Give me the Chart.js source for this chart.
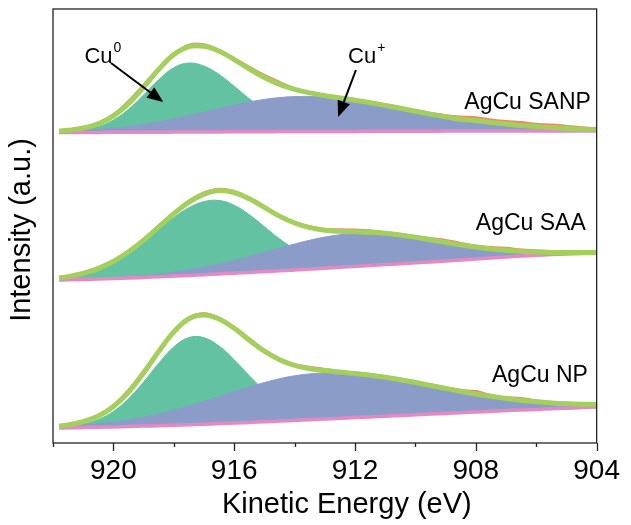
<!DOCTYPE html>
<html>
<head>
<meta charset="utf-8">
<title>Cu LMM Auger spectra</title>
<script src="https://cdn.jsdelivr.net/npm/chart.js@4.4.1/dist/chart.umd.min.js"></script>
<style>
  html, body { margin: 0; padding: 0; background: #fff; }
  #wrap { width: 631px; height: 525px; }
</style>
</head>
<body>
<div id="wrap"><canvas id="chart" width="631" height="525"></canvas></div>
<script>
// kinetic energy grid (eV), shared by every curve
const energy = [921.8, 921.5, 921, 920.5, 920, 919.5, 919, 918.5, 918, 917.5, 917, 916.5, 916, 915.5, 915, 914.5, 914, 913.5, 913, 912.5, 912, 911.5, 911, 910.5, 910, 909.5, 909, 908.5, 908, 907.5, 907, 906.5, 906, 905.5, 905, 904.5, 904];
const energyTicks = [920, 916, 912, 908, 904];

// AgCu SANP
const sanpBackground = [20.5, 20.5, 20.6, 20.6, 20.7, 20.7, 20.8, 20.8, 20.9, 21, 21, 21.1, 21.2, 21.2, 21.3, 21.4, 21.4, 21.5, 21.5, 21.6, 21.6, 21.7, 21.7, 21.8, 21.8, 21.8, 21.9, 21.9, 21.9, 22, 22, 22, 22, 22, 22, 22, 22];
const sanpCu0 = [20.9, 21.4, 23.0, 26.4, 33.1, 43.7, 58.0, 73.3, 85.3, 90.0, 86.9, 78.5, 66.8, 54.3, 43.2, 34.6, 28.7, 25.1, 23.2, 22.3, 21.9, 21.7, 21.7, 21.8, 21.8, 21.8, 21.9, 21.9, 21.9, 22, 22, 22, 22, 22, 22, 22, 22];
const sanpCuPlus = [21.5, 21.8, 22.6, 23.5, 24.8, 26.4, 28.6, 31.1, 34.0, 37.4, 40.8, 44.4, 47.9, 51.0, 53.6, 55.4, 56.4, 56.5, 55.7, 54.4, 52.5, 50.2, 47.6, 44.8, 41.8, 38.9, 36.3, 33.7, 32.4, 30.6, 29.0, 27.6, 26.4, 25.4, 24.6, 23.9, 23.4];
const sanpFit = [21.9, 22.7, 25.0, 29.3, 37.2, 49.4, 65.8, 83.6, 98.4, 106.4, 106.7, 101.8, 93.5, 84.1, 75.5, 68.6, 63.7, 60.1, 57.4, 55.1, 52.8, 50.2, 47.6, 44.8, 41.8, 38.9, 36.3, 33.7, 32.4, 30.6, 29.0, 27.6, 26.4, 25.4, 24.6, 23.9, 23.4];
const sanpData = [22.2, 22.9, 25.3, 29.8, 38.0, 51.4, 67.8, 84.2, 98.6, 107.9, 108.2, 102.3, 94.0, 85.8, 77.6, 70.6, 64.4, 60.5, 57.8, 55.6, 53.2, 50.6, 48.1, 45.4, 42.4, 39.6, 37.2, 36.0, 35.2, 33.1, 31.6, 30.4, 28.7, 28.0, 26.6, 25.2, 23.8];

// AgCu SAA
const saaBackground = [18, 18.2, 18.6, 19, 19.5, 20, 20.6, 21.2, 21.9, 22.6, 23.3, 24, 24.8, 25.6, 26.4, 27.2, 28, 28.9, 29.8, 30.7, 31.6, 32.5, 33.4, 34.3, 35.2, 36.1, 37, 38, 39, 40, 41, 41.9, 42.7, 43.4, 44, 44.5, 45];
const saaCu0 = [20.0, 21.2, 24.3, 29.0, 35.9, 45.0, 56.1, 68.4, 80.4, 90.3, 96.4, 97.5, 92.8, 83.3, 71.3, 59.2, 49.0, 41.5, 36.7, 34.2, 33.2, 33.2, 33.7, 34.4, 35.2, 36.1, 37, 38, 39, 40, 41, 41.9, 42.7, 43.4, 44, 44.5, 45];
const saaCuPlus = [18.1, 18.4, 18.9, 19.4, 20.2, 21.2, 22.4, 23.9, 25.8, 28.1, 30.8, 33.9, 37.5, 41.5, 45.7, 49.9, 54.0, 57.8, 60.9, 63.2, 64.6, 65.0, 64.4, 62.9, 60.8, 58.3, 55.6, 53.1, 50.9, 49.1, 47.7, 46.7, 46.0, 45.6, 45.5, 45.4, 45.6];
const saaFit = [20.1, 21.4, 24.6, 29.4, 36.6, 46.2, 57.9, 71.1, 84.3, 95.8, 103.9, 107.4, 105.5, 99.2, 90.6, 81.9, 75.0, 70.4, 67.8, 66.7, 66.2, 65.7, 64.7, 63.0, 60.8, 58.3, 55.6, 53.1, 50.9, 49.1, 47.7, 46.7, 46.0, 45.6, 45.5, 45.4, 45.6];
const saaData = [20.4, 21.8, 25.4, 30.6, 37.4, 46.8, 58.3, 71.6, 84.8, 96.4, 105.0, 108.8, 106.4, 99.8, 91.0, 82.3, 75.6, 71.2, 68.6, 68.2, 67.9, 67.2, 65.4, 63.6, 61.2, 59.3, 57.6, 54.6, 52.0, 50.4, 49.8, 48.0, 47.2, 46.6, 46.2, 45.8, 45.9];

// AgCu NP
const npBackground = [15, 15.2, 15.5, 15.8, 16.1, 16.5, 16.9, 17.3, 17.8, 18.3, 18.8, 19.4, 20, 20.6, 21.2, 21.9, 22.6, 23.3, 24, 24.7, 25.4, 26.1, 26.8, 27.5, 28.2, 28.9, 29.6, 30.3, 31, 31.7, 32.4, 33, 33.6, 34.2, 34.8, 35.4, 36];
const npCu0 = [15.7, 16.5, 18.9, 23.5, 31.6, 44.3, 61.1, 79.7, 96.1, 105.5, 105.3, 97.0, 83.3, 67.3, 52.5, 40.9, 33.1, 28.5, 26.4, 25.7, 25.8, 26.2, 26.8, 27.5, 28.2, 28.9, 29.6, 30.3, 31, 31.7, 32.4, 33, 33.6, 34.2, 34.8, 35.4, 36];
const npCuPlus = [16.2, 16.8, 17.9, 19.2, 20.9, 23.1, 25.8, 29.0, 32.8, 37.0, 41.5, 46.4, 51.4, 56.1, 60.5, 64.3, 67.2, 69.1, 70.0, 69.9, 69.2, 67.7, 65.7, 63.3, 60.5, 57.5, 54.6, 51.7, 49.0, 46.7, 44.6, 42.7, 41.2, 40.1, 39.3, 38.8, 38.5];
const npFit = [16.9, 18.1, 21.3, 26.9, 36.4, 50.9, 70.0, 91.4, 111.1, 124.2, 128.0, 124.0, 114.7, 102.8, 91.8, 83.3, 77.7, 74.3, 72.4, 70.9, 69.6, 67.8, 65.7, 63.3, 60.5, 57.5, 54.6, 51.7, 49.0, 46.7, 44.6, 42.7, 41.2, 40.1, 39.3, 38.8, 38.5];
const npData = [17.2, 18.6, 21.6, 27.6, 37.6, 52.6, 71.8, 92.4, 111.6, 125.0, 129.2, 124.6, 115.6, 104.2, 92.4, 83.8, 78.4, 75.8, 73.6, 71.4, 70.0, 68.2, 66.2, 63.8, 61.0, 58.2, 55.4, 52.6, 51.4, 47.6, 45.2, 44.6, 42.0, 40.6, 39.7, 39.1, 38.7];

const sampleNames = ['AgCu SANP', 'AgCu SAA', 'AgCu NP'];
// vertical shift used to stack the three spectra
const stackOffset = [290, 145, 0];

const FONT = "'Liberation Sans', Arial, Helvetica, sans-serif";
const colors = {
    cu0: '#62c2a1',
    cuPlus: '#8b9cc9',
    background: '#e38ac4',
    data: '#ea8a5e',
    fit: '#a4cf5c'
};

const spectra = [
    { bg: sanpBackground, cu0: sanpCu0, cuPlus: sanpCuPlus, fit: sanpFit, raw: sanpData },
    { bg: saaBackground, cu0: saaCu0, cuPlus: saaCuPlus, fit: saaFit, raw: saaData },
    { bg: npBackground, cu0: npCu0, cuPlus: npCuPlus, fit: npFit, raw: npData }
];

function toPoints(values, shift) {
    return values.map((v, i) => ({ x: energy[i], y: v + shift }));
}

const datasets = [];
spectra.forEach((s, p) => {
    const shift = stackOffset[p];
    const base = datasets.length;
    datasets.push({
        label: sampleNames[p] + ' background',
        data: toPoints(s.bg, shift),
        borderColor: colors.background,
        borderWidth: 3.5,
        fill: false,
        order: 2
    });
    datasets.push({
        label: sampleNames[p] + ' Cu0',
        data: toPoints(s.cu0, shift),
        borderColor: colors.cu0,
        borderWidth: 1,
        backgroundColor: colors.cu0,
        fill: base,
        order: 4
    });
    datasets.push({
        label: sampleNames[p] + ' Cu+',
        data: toPoints(s.cuPlus, shift),
        borderColor: colors.cuPlus,
        borderWidth: 1,
        backgroundColor: colors.cuPlus,
        fill: base,
        order: 3
    });
    datasets.push({
        label: sampleNames[p] + ' raw',
        data: toPoints(s.raw, shift),
        borderColor: colors.data,
        borderWidth: 3,
        fill: false,
        order: 1
    });
    datasets.push({
        label: sampleNames[p] + ' fit',
        data: toPoints(s.fit, shift),
        borderColor: colors.fit,
        borderWidth: 5,
        fill: false,
        order: 0
    });
});

function drawArrow(ctx, x1, y1, x2, y2) {
    const ang = Math.atan2(y2 - y1, x2 - x1);
    const headLen = 16, headW = 6.5;
    const bx = x2 - headLen * Math.cos(ang), by = y2 - headLen * Math.sin(ang);
    ctx.beginPath();
    ctx.moveTo(x1, y1);
    ctx.lineTo(bx, by);
    ctx.lineWidth = 2;
    ctx.strokeStyle = '#000';
    ctx.stroke();
    ctx.beginPath();
    ctx.moveTo(x2, y2);
    ctx.lineTo(bx + headW * Math.sin(ang), by - headW * Math.cos(ang));
    ctx.lineTo(bx - headW * Math.sin(ang), by + headW * Math.cos(ang));
    ctx.closePath();
    ctx.fillStyle = '#000';
    ctx.fill();
}

// species label with a superscript charge state
function drawSpecies(ctx, text, sup, x, y) {
    ctx.font = '22px ' + FONT;
    ctx.textAlign = 'left';
    ctx.textBaseline = 'middle';
    ctx.fillStyle = '#000';
    ctx.fillText(text, x, y);
    const w = ctx.measureText(text).width;
    ctx.font = '14px ' + FONT;
    ctx.fillText(sup, x + w + 1, y - 9);
}

const framePlugin = {
    id: 'frameAndLabels',
    afterDraw(chart) {
        const { ctx, chartArea: a } = chart;
        const xs = chart.scales.x, ys = chart.scales.y;
        ctx.save();

        // box around the plot
        ctx.strokeStyle = '#222';
        ctx.lineWidth = 1.3;
        ctx.strokeRect(a.left, a.top, a.right - a.left, a.bottom - a.top);

        // outward ticks: long on labelled values, short in between
        ctx.beginPath();
        for (let v = 904; v <= 922; v += 2) {
            const px = Math.round(xs.getPixelForValue(v)) + 0.5;
            const len = energyTicks.includes(v) ? 8 : 4;
            ctx.moveTo(px, a.bottom);
            ctx.lineTo(px, a.bottom + len);
        }
        ctx.stroke();

        // axis titles
        ctx.fillStyle = '#000';
        ctx.font = '29px ' + FONT;
        ctx.textAlign = 'center';
        ctx.textBaseline = 'middle';
        ctx.fillText('Kinetic Energy (eV)', (a.left + a.right) / 2 + 22, 505);
        ctx.save();
        ctx.translate(22, (a.top + a.bottom) / 2 + 4);
        ctx.rotate(-Math.PI / 2);
        ctx.fillText('Intensity (a.u.)', 0, 0);
        ctx.restore();

        // sample names
        ctx.font = '23px ' + FONT;
        ctx.textAlign = 'right';
        ctx.fillText(sampleNames[0], xs.getPixelForValue(904.19), ys.getPixelForValue(340));
        ctx.fillText(sampleNames[1], xs.getPixelForValue(904.36), ys.getPixelForValue(219));
        ctx.fillText(sampleNames[2], xs.getPixelForValue(904.29), ys.getPixelForValue(67));

        // component labels on the top spectrum
        drawSpecies(ctx, 'Cu', '0', xs.getPixelForValue(920.96), ys.getPixelForValue(386));
        drawSpecies(ctx, 'Cu', '+', xs.getPixelForValue(912.23), ys.getPixelForValue(386));
        drawArrow(ctx, xs.getPixelForValue(920.08), ys.getPixelForValue(380),
            xs.getPixelForValue(918.35), ys.getPixelForValue(341));
        drawArrow(ctx, xs.getPixelForValue(911.97), ys.getPixelForValue(373),
            xs.getPixelForValue(912.56), ys.getPixelForValue(326));

        ctx.restore();
    }
};

new Chart(document.getElementById('chart'), {
    type: 'line',
    data: { datasets: datasets },
    options: {
        responsive: false,
        devicePixelRatio: 1,
        animation: false,
        events: [],
        layout: { padding: { top: 9, right: 25, left: 0, bottom: 0 } },
        elements: {
            point: { radius: 0 },
            line: { tension: 0.4 }
        },
        plugins: {
            legend: { display: false },
            tooltip: { enabled: false }
        },
        scales: {
            x: {
                type: 'linear',
                reverse: true,
                min: 904,
                max: 922,
                grid: { display: false, drawTicks: false },
                border: { display: false },
                ticks: {
                    stepSize: 4,
                    includeBounds: false,
                    padding: 11,
                    color: '#000',
                    font: { family: FONT, size: 28 },
                    maxRotation: 0,
                    callback: v => energyTicks.includes(v) ? String(v) : ''
                },
                afterFit: s => { s.height = 82; }
            },
            y: {
                min: 0,
                max: 434,
                grid: { display: false },
                border: { display: false },
                ticks: { display: false },
                afterFit: s => { s.width = 53; }
            }
        }
    },
    plugins: [framePlugin]
});
</script>
</body>
</html>
